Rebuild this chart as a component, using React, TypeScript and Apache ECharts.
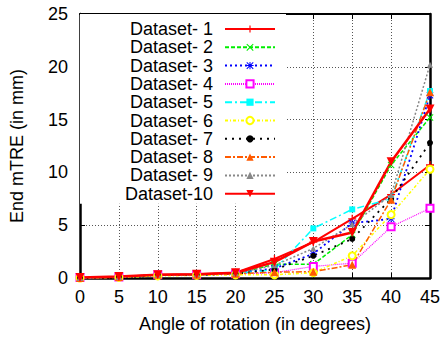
import React, { useEffect, useRef } from "react";
import * as echarts from "echarts";

const angles = [0, 5, 10, 15, 20, 25, 30, 35, 40, 45];
const seriesNames = [
  "Dataset- 1", "Dataset- 2", "Dataset- 3", "Dataset- 4", "Dataset- 5",
  "Dataset- 6", "Dataset- 7", "Dataset- 8", "Dataset- 9", "Dataset-10",
];
const d1 = [0, 0.1, 0.3, 0.35, 0.5, 1.8, 3.4, 5.6, 7.9, 10.7];
const d2 = [0, 0.1, 0.25, 0.3, 0.4, 1.3, 1.3, 4.1, 10.7, 15.2];
const d3 = [0, 0.1, 0.3, 0.3, 0.45, 0.9, 2.3, 5.2, 5.6, 17.3];
const d4 = [0.05, 0.1, 0.3, 0.3, 0.4, 0.5, 1.1, 1.4, 4.85, 6.6];
const d5 = [0, 0.1, 0.3, 0.3, 0.4, 0.8, 4.7, 6.5, 7.5, 17.7];
const d6 = [0, 0.05, 0.2, 0.25, 0.3, 0.3, 0.5, 2.1, 6.0, 10.3];
const d7 = [0, 0.1, 0.3, 0.3, 0.4, 0.8, 2.1, 3.7, 7.5, 12.8];
const d8 = [0, 0.1, 0.3, 0.3, 0.4, 0.55, 0.6, 1.25, 7.4, 17.6];
const d9 = [0, 0.1, 0.3, 0.35, 0.45, 1.2, 2.8, 5.1, 7.85, 20.2];
const d10 = [0.05, 0.15, 0.3, 0.35, 0.5, 1.5, 3.45, 4.3, 11.0, 16.0];
const allData = [d1, d2, d3, d4, d5, d6, d7, d8, d9, d10];

const PLUS = "path://M4.2,0 H5.8 V4.2 H10 V5.8 H5.8 V10 H4.2 V5.8 H0 V4.2 H4.2 Z";
const CROSS = "path://M0,1 L1,0 L5,4 L9,0 L10,1 L6,5 L10,9 L9,10 L5,6 L1,10 L0,9 L4,5 Z";
const STAR =
  "path://M4.3,0 H5.7 V4.3 H10 V5.7 H5.7 V10 H4.3 V5.7 H0 V4.3 H4.3 Z M1,0 L5,4 L9,0 L10,1 L6,5 L10,9 L9,10 L5,6 L1,10 L0,9 L4,5 L0,1 Z";

const styles = [
  { color: "#ff0000", type: "solid", width: 2, symbol: PLUS, size: 8, rotate: 0 },
  { color: "#00ee00", type: [4, 2], width: 1.5, symbol: CROSS, size: 7, rotate: 0 },
  { color: "#0000ff", type: [2, 3], width: 1.8, symbol: STAR, size: 7, rotate: 0 },
  { color: "#ff00ff", type: [1, 1], width: 1.2, symbol: "emptyRect", size: 7, rotate: 0 },
  { color: "#00ffff", type: [7, 3, 2, 3], width: 1.5, symbol: "rect", size: 6, rotate: 0 },
  { color: "#ffff00", type: [3, 2, 1, 2], width: 1.5, symbol: "emptyCircle", size: 7, rotate: 0 },
  { color: "#000000", type: [2, 5], width: 1.8, symbol: "circle", size: 6, rotate: 0 },
  { color: "#ff5a00", type: [6, 2, 2, 2], width: 1.5, symbol: "triangle", size: 8, rotate: 0 },
  { color: "#888888", type: [2, 2], width: 1.5, symbol: "triangle", size: 6, rotate: 0 },
  { color: "#ff0000", type: "solid", width: 2.5, symbol: "triangle", size: 9, rotate: 180 },
];

const FONT = "Liberation Sans";

export default function App() {
  const ref = useRef<HTMLDivElement>(null);
  useEffect(() => {
    if (!ref.current) return;
    const chart = echarts.init(ref.current, undefined, { renderer: "svg" });
    const series = allData.map((arr, i) => {
      const s = styles[i];
      return {
        name: seriesNames[i],
        type: "line",
        data: arr.map((v, k) => [angles[k], v]),
        symbol: s.symbol,
        symbolSize: s.size,
        symbolRotate: s.rotate,
        showAllSymbol: true,
        lineStyle: { color: s.color, type: s.type, width: s.width },
        itemStyle: { color: s.color, borderColor: s.color, borderWidth: s.symbol.startsWith("empty") ? 1.5 : 0 },
        emphasis: { disabled: true },
      };
    });
    const splitStyle = { show: true, lineStyle: { color: "#555", type: [1, 2], width: 1 } };
    chart.setOption({
      animation: false,
      textStyle: { fontFamily: FONT },
      grid: { left: 80, right: 11, top: 14, bottom: 58, containLabel: false },
      legend: {
        orient: "vertical",
        left: 80,
        top: 14,
        align: "right",
        backgroundColor: "#ffffff",
        padding: [6, 10, 1, 43],
        itemWidth: 50,
        itemHeight: 9,
        itemGap: 0.3,
        z: 10,
        data: seriesNames,
        formatter: (n: string) => `{a|${n}}`,
        textStyle: {
          fontFamily: FONT,
          fontSize: 18,
          color: "#000",
          rich: { a: { fontFamily: FONT, fontSize: 18, color: "#000", width: 90, align: "right", padding: [0, 7, 0, 0], lineHeight: 18 } },
        },
      },
      xAxis: [
        {
          type: "value",
          min: 0,
          max: 45,
          interval: 5,
          name: "Angle of rotation (in degrees)",
          nameLocation: "middle",
          nameGap: 37,
          nameTextStyle: { fontFamily: FONT, fontSize: 18, color: "#000" },
          axisLine: { show: true, onZero: false, lineStyle: { color: "#000", width: 2.5 } },
          axisTick: { show: true, inside: true, length: 5, lineStyle: { color: "#000", width: 1 } },
          axisLabel: { fontFamily: FONT, fontSize: 18, color: "#000", margin: 10 },
          splitLine: splitStyle,
        },
        {
          type: "value",
          position: "top",
          min: 0,
          max: 45,
          interval: 5,
          axisLine: { show: true, onZero: false, lineStyle: { color: "#000", width: 2 } },
          axisTick: { show: true, inside: true, length: 5, lineStyle: { color: "#000", width: 1 } },
          axisLabel: { show: false },
          splitLine: { show: false },
        },
      ],
      yAxis: [
        {
          type: "value",
          min: 0,
          max: 25,
          interval: 5,
          name: "End mTRE (in mm)",
          nameLocation: "middle",
          nameGap: 54,
          nameTextStyle: { fontFamily: FONT, fontSize: 18, color: "#000" },
          axisLine: { show: true, onZero: false, lineStyle: { color: "#000", width: 2.5 } },
          axisTick: { show: true, inside: true, length: 5, lineStyle: { color: "#000", width: 1 } },
          axisLabel: { fontFamily: FONT, fontSize: 18, color: "#000", margin: 12 },
          splitLine: splitStyle,
        },
        {
          type: "value",
          position: "right",
          min: 0,
          max: 25,
          interval: 5,
          axisLine: { show: true, onZero: false, lineStyle: { color: "#000", width: 2.5 } },
          axisTick: { show: true, inside: true, length: 5, lineStyle: { color: "#000", width: 1 } },
          axisLabel: { show: false },
          splitLine: { show: false },
        },
      ],
      series,
    });
    return () => chart.dispose();
  }, []);
  return <div ref={ref} style={{ width: 443, height: 338, position: "absolute", left: 0, top: 0 }} />;
}
